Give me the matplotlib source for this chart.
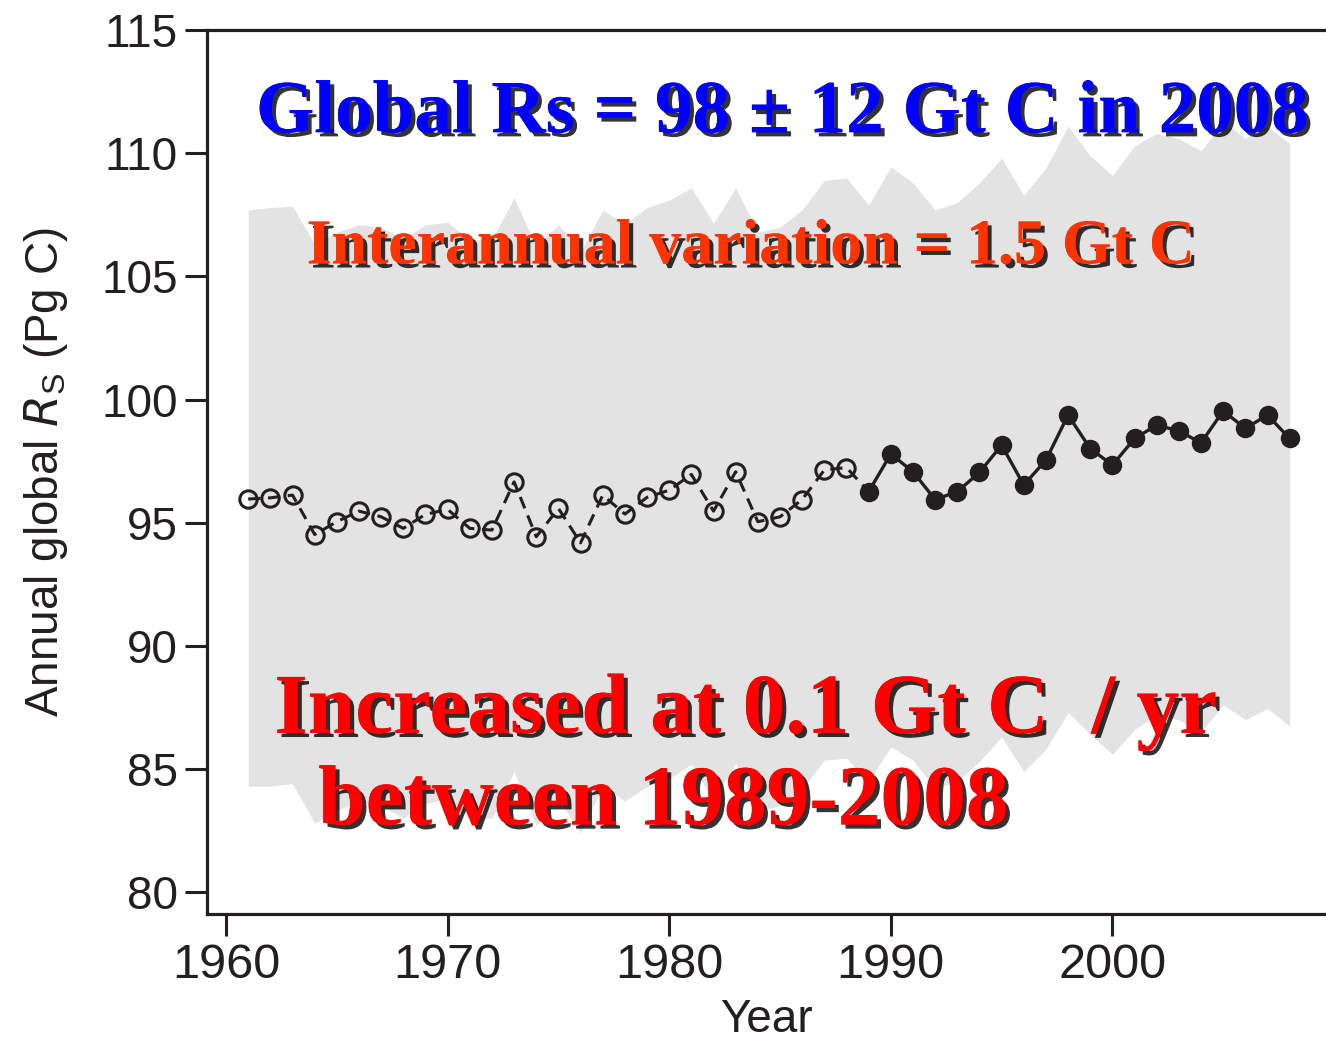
import matplotlib
matplotlib.use("Agg")
import matplotlib.pyplot as plt
import matplotlib.patheffects as pe

# Years and annual global soil respiration (Pg C)
years = list(range(1961, 2009))
rs = [95.96, 96.01, 96.12, 94.52, 95.04, 95.47, 95.24, 94.77, 95.34, 95.54,
      94.77, 94.70, 96.66, 94.43, 95.58, 94.18, 96.12, 95.35, 96.03, 96.32,
      96.96, 95.47, 97.07, 95.04, 95.24, 95.94, 97.14, 97.24, 96.26, 97.79,
      97.07, 95.94, 96.26, 97.04, 98.15, 96.53, 97.54, 99.37, 98.01, 97.34,
      98.42, 98.96, 98.73, 98.24, 99.54, 98.83, 99.37, 98.42]

# Uncertainty band edges
upper = [107.7, 107.8, 107.85, 106.3, 106.8, 107.1, 107.0, 106.5, 107.1, 107.2,
         106.5, 106.5, 108.2, 106.2, 107.1, 106.0, 107.7, 107.1, 107.8, 108.1,
         108.6, 107.15, 108.6, 106.8, 107.0, 107.7, 108.9, 109.0, 107.9, 109.45,
         108.8, 107.7, 108.0, 108.8, 109.8, 108.3, 109.4, 111.1, 109.9, 109.1,
         110.3, 110.8, 110.6, 110.1, 111.3, 110.6, 111.1, 110.4]
lower = [84.3, 84.3, 84.4, 82.8, 83.3, 83.7, 83.5, 83.0, 83.6, 83.8,
         83.0, 83.0, 84.9, 82.7, 83.8, 82.4, 84.3, 83.7, 84.3, 84.6,
         85.2, 83.7, 85.25, 83.3, 83.5, 84.2, 85.36, 85.43, 84.5, 85.9,
         85.36, 84.2, 84.5, 85.3, 86.3, 84.9, 85.8, 87.3, 86.4, 85.6,
         86.6, 87.2, 87.0, 86.5, 87.6, 87.0, 87.45, 86.75]

split_year = 1989  # first year drawn with filled markers

plt.rcParams['font.family'] = ['Liberation Sans', 'DejaVu Sans']
ink = '#231f20'

fig = plt.figure(figsize=(13.26, 10.41), dpi=100)
ax = fig.add_axes([0.1561, 0.122, 0.8439, 0.849])

ax.fill_between(years, lower, upper, color='#e3e3e3', linewidth=0, zorder=1)

i = years.index(split_year)
# early period: dashed line with open circles (line runs on to 1989)
ax.plot(years[:i + 1], rs[:i + 1], color=ink, lw=2.2, ls=(0, (4, 2.5)),
        marker='o', ms=12.5, mfc='none', mec=ink, mew=2.2,
        markevery=slice(0, i), zorder=3)
# recent period: solid line with filled circles
ax.plot(years[i:], rs[i:], color=ink, lw=2.4, marker='o', ms=13,
        mfc=ink, mec=ink, zorder=3)

ax.set_xlim(1959.14, 2009.64)
ax.set_ylim(79.11, 115)
ax.set_xticks([1960, 1970, 1980, 1990, 2000])
ax.set_yticks([80, 85, 90, 95, 100, 105, 110, 115])

for side in ['left', 'bottom', 'top']:
    ax.spines[side].set_linewidth(2.3)
    ax.spines[side].set_color(ink)
ax.spines['right'].set_visible(False)

ax.tick_params(axis='both', direction='out', length=16, width=2.2, color=ink,
               labelcolor=ink)
ax.tick_params(axis='y', labelsize=33, pad=5)
ax.tick_params(axis='x', labelsize=35, pad=5)

ax.set_xlabel('Year', fontsize=33, color=ink, labelpad=7)
ax.set_ylabel('Annual global $R_\\mathregular{S}$ (Pg C)', fontsize=33,
              color=ink)
ax.yaxis.set_label_coords(-0.122, 0.5)

shadow = [pe.withSimplePatchShadow(offset=(3, -3), shadow_rgbFace='black', alpha=0.8),
          pe.Normal()]
serif = {'family': 'Liberation Serif', 'weight': 'bold'}

fig.text(0.590, 0.873, 'Global Rs = 98 \u00b1 12 Gt C in 2008', color='#0000ff',
         fontsize=54, ha='center', va='baseline', path_effects=shadow, **serif)
fig.text(0.566, 0.747, 'Interannual variation = 1.5 Gt C', color='#ff3300',
         fontsize=46, ha='center', va='baseline', path_effects=shadow, **serif)
fig.text(0.207, 0.296, 'Increased at 0.1 Gt C  / yr', color='#ff0000',
         fontsize=61.5, ha='left', va='baseline', path_effects=shadow, **serif)
fig.text(0.240, 0.208, 'between 1989-2008', color='#ff0000',
         fontsize=61.5, ha='left', va='baseline', path_effects=shadow, **serif)

fig.savefig('out.png', dpi=100)
